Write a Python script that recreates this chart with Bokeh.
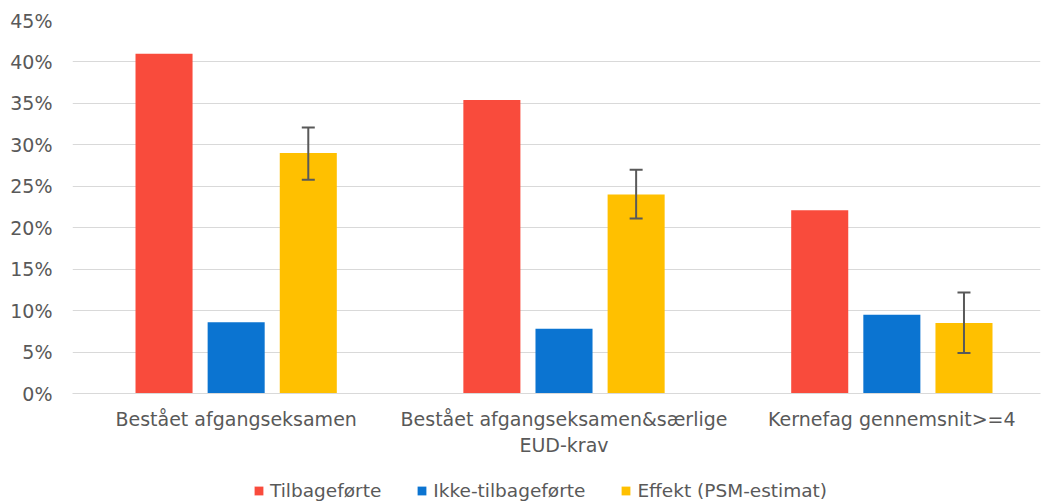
from bokeh.plotting import figure
from bokeh.layouts import column
from bokeh.models import (ColumnDataSource, Range1d, FixedTicker, Whisker, TeeHead,
                          Legend, LegendItem, PrintfTickFormatter)
from bokeh.transform import dodge
from bokeh.embed import file_html
from bokeh.resources import INLINE

categories = ["Bestået afgangseksamen",
              "Bestået afgangseksamen&særlige\nEUD-krav",
              "Kernefag gennemsnit>=4"]
series_names = ["Tilbageførte", "Ikke-tilbageførte", "Effekt (PSM-estimat)"]
tilbageforte = [41.0, 35.4, 22.1]
ikke_tilbageforte = [8.6, 7.8, 9.5]
effekt = [29.0, 24.0, 8.5]
effekt_lower = [25.8, 21.1, 4.9]
effekt_upper = [32.1, 27.0, 12.2]
y_ticks = [0, 5, 10, 15, 20, 25, 30, 35, 40, 45]

colors = ["#F94B3C", "#0B74D1", "#FFC000"]
text_color = "#595959"
font = "DejaVu Sans"

idx = list(range(len(categories)))
source = ColumnDataSource(dict(x=idx, t=tilbageforte, i=ikke_tilbageforte, e=effekt,
                               lo=effekt_lower, hi=effekt_upper))

p = figure(width=1047, height=460, output_backend="svg", toolbar_location=None,
           x_range=Range1d(-0.4992, 2.4534), y_range=Range1d(0, 45),
           min_border_left=72, min_border_right=7, min_border_top=20,
           min_border_bottom=67)
p.outline_line_color = None
p.background_fill_color = "white"
p.border_fill_color = "white"

bw = 0.174
step = 0.22
series_cols = ["t", "i", "e"]
offsets = [-step, 0.0, step]
for col, off, c in zip(series_cols, offsets, colors):
    p.vbar(x=dodge("x", off, range=p.x_range), top=col, width=bw, source=source,
           fill_color=c, line_color=None)

wh = Whisker(base=dodge("x", step, range=p.x_range), upper="hi", lower="lo", source=source,
             line_color=text_color, line_width=2, level="overlay",
             upper_head=TeeHead(size=13, line_color=text_color, line_width=2),
             lower_head=TeeHead(size=13, line_color=text_color, line_width=2))
p.add_layout(wh)

# axes
p.yaxis.ticker = FixedTicker(ticks=y_ticks)
p.yaxis.formatter = PrintfTickFormatter(format="%d%%")
p.yaxis.axis_line_color = None
p.yaxis.major_tick_line_color = None
p.yaxis.minor_tick_line_color = None
p.yaxis.major_tick_out = 0
p.yaxis.major_label_standoff = 20
p.yaxis.major_label_text_font = font
p.yaxis.major_label_text_font_size = "19px"
p.yaxis.major_label_text_color = text_color

p.xaxis.ticker = FixedTicker(ticks=idx)
p.xaxis.major_label_overrides = {i: c for i, c in zip(idx, categories)}
p.xaxis.axis_line_color = "#D9D9D9"
p.xaxis.major_tick_line_color = None
p.xaxis.minor_tick_line_color = None
p.xaxis.major_tick_out = 0
p.xaxis.major_label_standoff = 14
p.xaxis.major_label_text_font = font
p.xaxis.major_label_text_font_size = "19px"
p.xaxis.major_label_text_color = text_color

p.xgrid.grid_line_color = None
p.ygrid.grid_line_color = "#D9D9D9"
p.ygrid.grid_line_width = 1

# legend strip below the chart (its series lie outside the visible ranges; only the legend shows)
lg = figure(width=1047, height=41, output_backend="svg", toolbar_location=None,
            x_range=Range1d(100, 101), y_range=Range1d(1000, 1001),
            x_axis_type=None, y_axis_type=None,
            min_border_left=0, min_border_right=0, min_border_top=0, min_border_bottom=0)
lg.outline_line_color = None
lg.xgrid.grid_line_color = None
lg.ygrid.grid_line_color = None
lg_src = ColumnDataSource(dict(x=idx, t=tilbageforte, i=ikke_tilbageforte, e=effekt))
items = []
for name, col, c in zip(series_names, series_cols, colors):
    r = lg.vbar(x="x", top=col, width=bw, source=lg_src, fill_color=c, line_color=None)
    items.append(LegendItem(label=name, renderers=[r]))

legend = Legend(items=items, orientation="horizontal", location=(181, 0),
                padding=0, margin=0, spacing=35, glyph_width=11, glyph_height=11,
                label_standoff=6, label_height=20,
                label_text_font=font, label_text_font_size="18.5px",
                label_text_color=text_color, border_line_color=None,
                background_fill_alpha=0)
lg.add_layout(legend, "center")

layout = column(p, lg, spacing=0)
open("out.html", "w").write(file_html(layout, INLINE))
